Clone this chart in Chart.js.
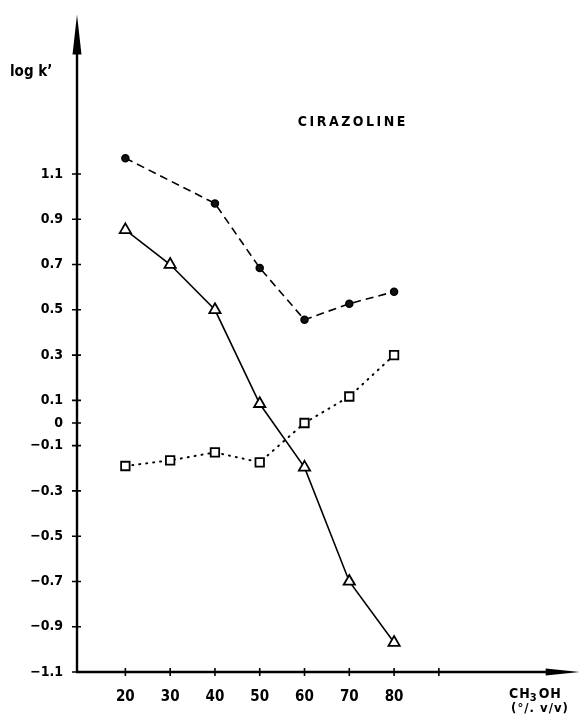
<!DOCTYPE html>
<html>
<head>
<meta charset="utf-8">
<script src="https://cdn.jsdelivr.net/npm/chart.js@4/dist/chart.umd.min.js"></script>
<style>
  body { margin: 0; background: #fff; }
  #wrap { width: 586px; height: 722px; }
</style>
</head>
<body>
<div id="wrap"><canvas id="myChart"></canvas></div>
<script>
const ctx = document.getElementById('myChart');

// methanol content (% v/v)
const methanol = [20, 30, 40, 50, 60, 70, 80];
const methanolCircles = [20, 40, 50, 60, 70, 80];

// log k' values
const circleValues = [1.17, 0.97, 0.685, 0.456, 0.527, 0.58];
const triangleValues = [0.853, 0.70, 0.50, 0.085, -0.196, -0.70, -0.97];
const squareValues = [-0.19, -0.165, -0.13, -0.174, 0.0, 0.117, 0.30];

const yTicks = [1.1, 0.9, 0.7, 0.5, 0.3, 0.1, 0, -0.1, -0.3, -0.5, -0.7, -0.9, -1.1];
const yTickLabels = ['1.1', '0.9', '0.7', '0.5', '0.3', '0.1', '0', '\u22120.1', '\u22120.3', '\u22120.5', '\u22120.7', '\u22120.9', '\u22121.1'];
const xTicks = [20, 30, 40, 50, 60, 70, 80, 90];
const xTickLabels = ['20', '30', '40', '50', '60', '70', '80', ''];

const pts = (xs, ys) => xs.map((x, i) => ({x: x, y: ys[i]}));

const FONT = '"DejaVu Sans Condensed", "DejaVu Sans", sans-serif';

// hand-drawn look: axes with arrowheads, crossing tick marks, captions
const axesPlugin = {
  id: 'axesPlugin',
  afterDraw(chart) {
    const c = chart.ctx;
    const xs = chart.scales.x, ys = chart.scales.y;
    const ax = chart.chartArea.left, ay = chart.chartArea.bottom;
    const top = chart.chartArea.top, right = chart.chartArea.right;
    c.save();
    c.strokeStyle = '#000';
    c.fillStyle = '#000';
    c.lineWidth = 2.4;
    c.beginPath();
    c.moveTo(ax, ay); c.lineTo(ax, top + 20);
    c.moveTo(ax - 1, ay); c.lineTo(right - 20, ay);
    c.stroke();
    // arrowheads
    c.beginPath();
    c.moveTo(ax, top); c.lineTo(ax - 4.5, top + 40); c.lineTo(ax + 4.5, top + 40); c.closePath();
    c.fill();
    c.beginPath();
    c.moveTo(right + 2, ay); c.lineTo(right - 32, ay - 3.5); c.lineTo(right - 32, ay + 3.5); c.closePath();
    c.fill();
    // tick marks
    c.lineWidth = 1.6;
    c.beginPath();
    yTicks.forEach(v => {
      const py = ys.getPixelForValue(v);
      c.moveTo(ax - 5, py); c.lineTo(ax + 4, py);
    });
    xTicks.forEach(v => {
      const px = xs.getPixelForValue(v);
      c.moveTo(px, ay - 4); c.lineTo(px, ay + 4);
    });
    c.stroke();
    // captions
    c.font = 'bold 15px ' + FONT;
    c.textAlign = 'left';
    c.textBaseline = 'middle';
    c.fillText('log k\u2019', 10, 72);
    c.font = 'bold 14px ' + FONT;
    c.textAlign = 'center';
    if (c.letterSpacing !== undefined) c.letterSpacing = '2.5px';
    c.fillText('CIRAZOLINE', xs.getPixelForValue(70.8), ys.getPixelForValue(1.33));
    c.letterSpacing = '1px';
    // CH3OH with subscript
    c.font = 'bold 14px ' + FONT;
    c.textAlign = 'left';
    const bx = 509, by = 694;
    c.fillText('CH', bx, by);
    let w = c.measureText('CH').width;
    c.font = 'bold 11px ' + FONT;
    c.fillText('3', bx + w - 1, by + 4);
    w += c.measureText('3').width;
    c.font = 'bold 14px ' + FONT;
    c.fillText('OH', bx + w, by);
    c.font = 'bold 13px ' + FONT;
    c.textAlign = 'center';
    c.fillText('(\u00b0/. v/v)', 540, 709);
    c.restore();
  }
};

const myChart = new Chart(ctx, {
  type: 'scatter',
  data: {
    datasets: [
      {
        label: 'circles',
        data: pts(methanolCircles, circleValues),
        showLine: true,
        borderColor: '#000',
        borderWidth: 1.6,
        borderDash: [8, 5],
        pointStyle: 'circle',
        pointRadius: 3.5,
        pointBackgroundColor: '#111',
        pointBorderColor: '#000',
        pointBorderWidth: 1.5
      },
      {
        label: 'triangles',
        data: pts(methanol, triangleValues),
        showLine: true,
        borderColor: '#000',
        borderWidth: 1.6,
        pointStyle: 'triangle',
        pointRadius: 6.5,
        pointBackgroundColor: '#fff',
        pointBorderColor: '#000',
        pointBorderWidth: 1.8
      },
      {
        label: 'squares',
        data: pts(methanol, squareValues),
        showLine: true,
        borderColor: '#000',
        borderWidth: 2,
        borderDash: [1, 6],
        borderCapStyle: 'round',
        pointStyle: 'rect',
        pointRadius: 6,
        pointBackgroundColor: '#fff',
        pointBorderColor: '#000',
        pointBorderWidth: 1.8
      }
    ]
  },
  options: {
    responsive: true,
    maintainAspectRatio: false,
    animation: false,
    layout: { padding: { top: 13, right: 2, left: 0, bottom: 0 } },
    plugins: {
      legend: { display: false },
      tooltip: { enabled: false }
    },
    scales: {
      x: {
        type: 'linear',
        min: 9.2,
        max: 121,
        grid: { display: false },
        border: { display: false },
        afterBuildTicks: s => { s.ticks = xTicks.map(v => ({value: v})); },
        afterFit: s => { s.height = 50; },
        ticks: {
          color: '#000',
          padding: 8,
          font: { family: FONT, size: 15, weight: 'bold' },
          callback: (v) => xTickLabels[xTicks.indexOf(v)]
        }
      },
      y: {
        type: 'linear',
        min: -1.1,
        max: 1.805,
        grid: { display: false },
        border: { display: false },
        afterBuildTicks: s => { s.ticks = yTicks.map(v => ({value: v})); },
        afterFit: s => { s.width = 77; },
        ticks: {
          color: '#000',
          padding: 6,
          font: { family: FONT, size: 14, weight: 'bold' },
          callback: (v) => yTickLabels[yTicks.indexOf(v)]
        }
      }
    }
  },
  plugins: [axesPlugin]
});
</script>
</body>
</html>
